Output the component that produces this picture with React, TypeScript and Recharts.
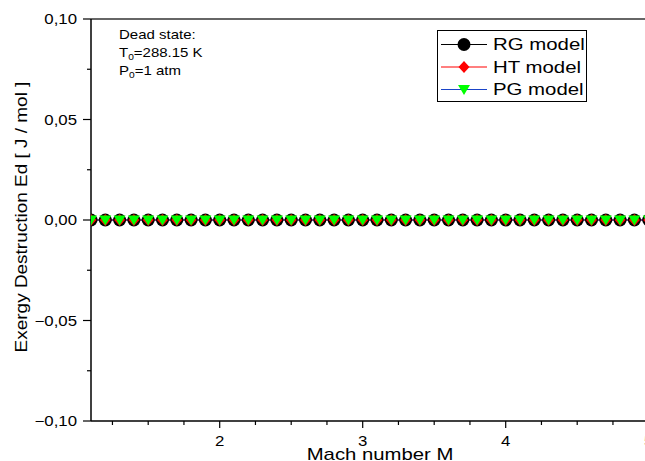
import React from 'react';
import { LineChart, Line, XAxis, YAxis, Legend, ReferenceLine } from 'recharts';

// Mach numbers sampled along the nozzle run
const machNumbers = [
  1.1, 1.2, 1.3, 1.4, 1.5, 1.6, 1.7, 1.8, 1.9, 2.0,
  2.1, 2.2, 2.3, 2.4, 2.5, 2.6, 2.7, 2.8, 2.9, 3.0,
  3.1, 3.2, 3.3, 3.4, 3.5, 3.6, 3.7, 3.8, 3.9, 4.0,
  4.1, 4.2, 4.3, 4.4, 4.5, 4.6, 4.7, 4.8, 4.9, 5.0,
];

// exergy destruction per model [J/mol]
const rgModel = [
  0, 0, 0, 0, 0, 0, 0, 0, 0, 0,
  0, 0, 0, 0, 0, 0, 0, 0, 0, 0,
  0, 0, 0, 0, 0, 0, 0, 0, 0, 0,
  0, 0, 0, 0, 0, 0, 0, 0, 0, 0,
];
const htModel = [
  0, 0, 0, 0, 0, 0, 0, 0, 0, 0,
  0, 0, 0, 0, 0, 0, 0, 0, 0, 0,
  0, 0, 0, 0, 0, 0, 0, 0, 0, 0,
  0, 0, 0, 0, 0, 0, 0, 0, 0, 0,
];
const pgModel = [
  0, 0, 0, 0, 0, 0, 0, 0, 0, 0,
  0, 0, 0, 0, 0, 0, 0, 0, 0, 0,
  0, 0, 0, 0, 0, 0, 0, 0, 0, 0,
  0, 0, 0, 0, 0, 0, 0, 0, 0, 0,
];

const seriesNames = ['RG model', 'HT model', 'PG model'];
const xTicks = [1.25, 1.5, 1.75, 2, 2.25, 2.5, 2.75, 3, 3.25, 3.5, 3.75, 4, 4.25, 4.5, 4.75, 5];
const yTicks = [-0.1, -0.075, -0.05, -0.025, 0, 0.025, 0.05, 0.075, 0.1];

const data = machNumbers.map((m, i) => ({ mach: m, rg: rgModel[i], ht: htModel[i], pg: pgModel[i] }));

const FONT = "'Liberation Sans', Arial, sans-serif";
const SX = 1.2; // glyphs run a little wide
const lineColors = ['#000000', '#ff0000', '#1a44c8'];

const fmtY = (v: number) => {
  const s = Math.abs(v).toFixed(2).replace('.', ',');
  return v < -1e-9 ? '\u2212' + s : s;
};

const marker = (kind: number, cx: number, cy: number, key?: any) => {
  if (kind === 0) return <circle key={key} cx={cx} cy={cy} r={6.5} fill="#000" />;
  if (kind === 1)
    return <path key={key} d={`M${cx},${cy - 6}L${cx + 5.5},${cy}L${cx},${cy + 6}L${cx - 5.5},${cy}Z`} fill="#ff0000" />;
  return <path key={key} d={`M${cx - 6},${cy - 4.5}L${cx + 6},${cy - 4.5}L${cx},${cy + 5.5}Z`} fill="#00ff00" />;
};

const dotFor = (kind: number) => (p: any) => {
  if (p.cx == null || p.cy == null) return <g key={p.index} />;
  return marker(kind, p.cx, p.cy, p.index);
};

const YTick = (props: any) => {
  const { x, y, payload } = props;
  const v = payload.value;
  const major = Math.abs(v * 20 - Math.round(v * 20)) < 1e-6;
  return (
    <g>
      <line x1={x - (major ? 8 : 4)} x2={x} y1={y} y2={y} stroke="#000" strokeWidth={1.2} />
      {major && (
        <text transform={`translate(${x - 14},${y + 5}) scale(${SX},1)`} textAnchor="end"
          fontSize={14} fill="#000" fontFamily={FONT}>{fmtY(v)}</text>
      )}
    </g>
  );
};

const XTick = (props: any) => {
  const { x, y, payload } = props;
  const v = payload.value;
  const major = Math.abs(v - Math.round(v)) < 1e-6;
  return (
    <g>
      <line x1={x} x2={x} y1={y} y2={y + (major ? 7 : 4)} stroke="#000" strokeWidth={1.2} />
      {major && (
        <text transform={`translate(${x},${y + 25}) scale(${SX},1)`} textAnchor="middle"
          fontSize={14} fill="#000" fontFamily={FONT}>{String(v)}</text>
      )}
    </g>
  );
};

const renderLegend = () => (
  <svg width={150} height={72} style={{ display: 'block' }}>
    <rect x={0.5} y={0.5} width={149} height={71} fill="#fff" stroke="#000" />
    {seriesNames.map((name, i) => {
      const cy = 14.5 + i * 22.5;
      return (
        <g key={name}>
          <line x1={4} x2={50} y1={cy} y2={cy} stroke={lineColors[i]} strokeWidth={1.2} />
          {marker(i, 27, cy)}
          <text transform={`translate(56,${cy + 5.5}) scale(${SX},1)`} fontSize={17} fill="#000" fontFamily={FONT}>
            {name}
          </text>
        </g>
      );
    })}
  </svg>
);

const yLabel = (p: any) => {
  const vb = p.viewBox || { x: 0, y: 19, width: 91, height: 402 };
  return (
    <text transform={`translate(${vb.x + 27},${vb.y + vb.height / 2 - 3}) rotate(-90) scale(1.15,1)`}
      textAnchor="middle" fontSize={16.5} fill="#000" fontFamily={FONT}>
      Exergy Destruction Ed [ J / mol ]
    </text>
  );
};

const xLabel = (p: any) => {
  const vb = p.viewBox || { x: 91, y: 421, width: 572, height: 40 };
  return (
    <text transform={`translate(${vb.x + vb.width / 2 + 3},${vb.y + 39}) scale(1.27,1)`}
      textAnchor="middle" fontSize={16} fill="#000" fontFamily={FONT}>
      Mach number M
    </text>
  );
};

export default function App() {
  return (
    <div style={{ width: 645, height: 461, overflow: 'hidden', position: 'relative' }}>
      <style>{'body{margin:0}'}</style>
      <LineChart width={663} height={461} data={data} margin={{ top: 19, right: 0, left: 0, bottom: 0 }}>
        <XAxis dataKey="mach" type="number" domain={[1.1, 5.1]} ticks={xTicks} interval={0}
          allowDataOverflow tickLine={false} tickSize={0} tickMargin={0} height={40}
          axisLine={{ stroke: '#000', strokeWidth: 1.5 }} tick={(p: any) => <XTick {...p} />}
          label={{ content: xLabel }} />
        <YAxis type="number" domain={[-0.1, 0.1]} ticks={yTicks} interval={0} width={91}
          tickLine={false} tickSize={0} tickMargin={0}
          axisLine={{ stroke: '#000', strokeWidth: 1.5 }} tick={(p: any) => <YTick {...p} />}
          label={{ content: yLabel }} />
        <ReferenceLine y={0.1} stroke="#333" strokeWidth={1.5} />
        <Legend content={renderLegend} layout="horizontal" verticalAlign="middle" align="center"
          wrapperStyle={{ left: 437, top: 30, width: 150, height: 72 }} />
        <Line dataKey="rg" name={seriesNames[0]} type="linear" stroke={lineColors[0]} strokeWidth={1}
          dot={dotFor(0)} isAnimationActive={false} />
        <Line dataKey="ht" name={seriesNames[1]} type="linear" stroke={lineColors[1]} strokeWidth={1}
          dot={dotFor(1)} isAnimationActive={false} />
        <Line dataKey="pg" name={seriesNames[2]} type="linear" stroke={lineColors[2]} strokeWidth={1.2}
          dot={dotFor(2)} isAnimationActive={false} />
      </LineChart>
      <svg width={645} height={461} style={{ position: 'absolute', left: 0, top: 0, pointerEvents: 'none' }}>
        <g fontFamily={FONT} fontSize={12.5} fill="#000">
          <text transform={`translate(119,39) scale(${SX},1)`}>Dead state:</text>
          <text transform={`translate(119,57.3) scale(${SX},1)`}>
            T<tspan fontSize={8.5} dy={3}>0</tspan><tspan dy={-3}>=288.15 K</tspan>
          </text>
          <text transform={`translate(119,75) scale(${SX},1)`}>
            P<tspan fontSize={8.5} dy={3}>0</tspan><tspan dy={-3}>=1 atm</tspan>
          </text>
        </g>
      </svg>
    </div>
  );
}
